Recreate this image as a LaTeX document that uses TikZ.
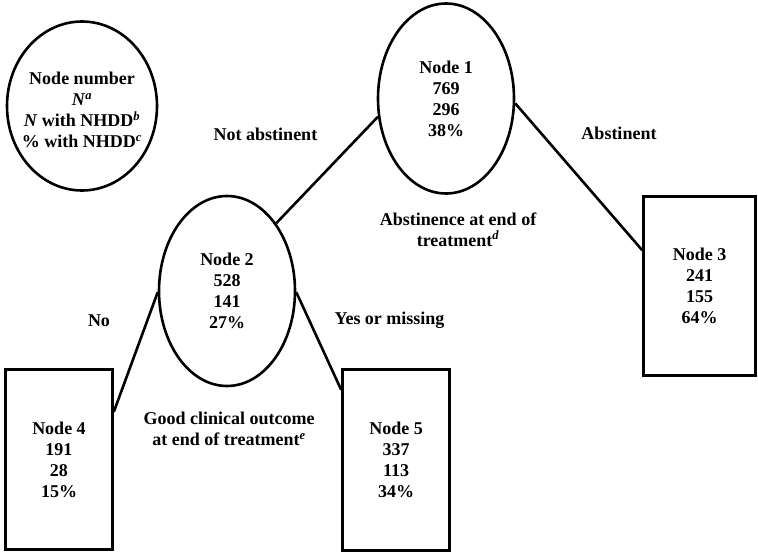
\documentclass[tikz,border=0pt]{standalone}
\usepackage{fontspec}
\setmainfont{Liberation Serif}
\usetikzlibrary{shapes.geometric}
\begin{document}
\begin{tikzpicture}[x=1pt,y=-1pt,
  lbl/.style={font=\fontsize{18}{21}\selectfont\bfseries, align=center, inner sep=0pt},
  oval/.style={ellipse, draw, line width=2.6pt, lbl, minimum width=136pt, minimum height=190pt},
  leaf/.style={rectangle, draw, line width=2.6pt, lbl},
  edge/.style={line width=2.6pt}]
\useasboundingbox (0,0) rectangle (758,554);
\fill[white] (0,0) rectangle (758,554);
% legend
\node[oval, minimum width=150pt, minimum height=169pt] (leg) at (82,106) {};
\node[lbl] (legt) at (82,110)
  {Node number\\\textit{N}\textsuperscript{\itshape a}\\\textit{N} with NHDD\textsuperscript{\itshape b}\\\% with NHDD\textsuperscript{\itshape c}};
% nodes
\node[oval] (n1) at (446,98.5) {Node 1\\769\\296\\38\%};
\node[oval] (n2) at (227,291) {Node 2\\528\\141\\27\%};
\node[leaf, minimum width=112pt, minimum height=179pt] (n3) at (699.5,286) {Node 3\\241\\155\\64\%};
\node[leaf, minimum width=107pt, minimum height=180pt] (n4) at (59,459.5) {Node 4\\191\\28\\15\%};
\node[leaf, minimum width=107pt, minimum height=181pt] (n5) at (396,460) {Node 5\\337\\113\\34\%};
% connectors
\draw[edge] (n1.195) -- (n2.54);
\draw[edge] (n1.-4) -- (n3.148);
\draw[edge] (n2.181) -- (n4.41);
\draw[edge] (n2.-1) -- (n5.128);
% labels
\node[lbl] (t1) at (265.5,134) {Not abstinent};
\node[lbl] (t2) at (619,133) {Abstinent};
\node[lbl] (t3) at (458,229.5) {Abstinence at end of\\treatment\textsuperscript{\itshape d}};
\node[lbl] (t4) at (99,321) {No};
\node[lbl] (t5) at (389.5,320) {Yes or missing};
\node[lbl] (t6) at (229,429) {Good clinical outcome\\at end of treatment\textsuperscript{\itshape e}};
\end{tikzpicture}
\end{document}
